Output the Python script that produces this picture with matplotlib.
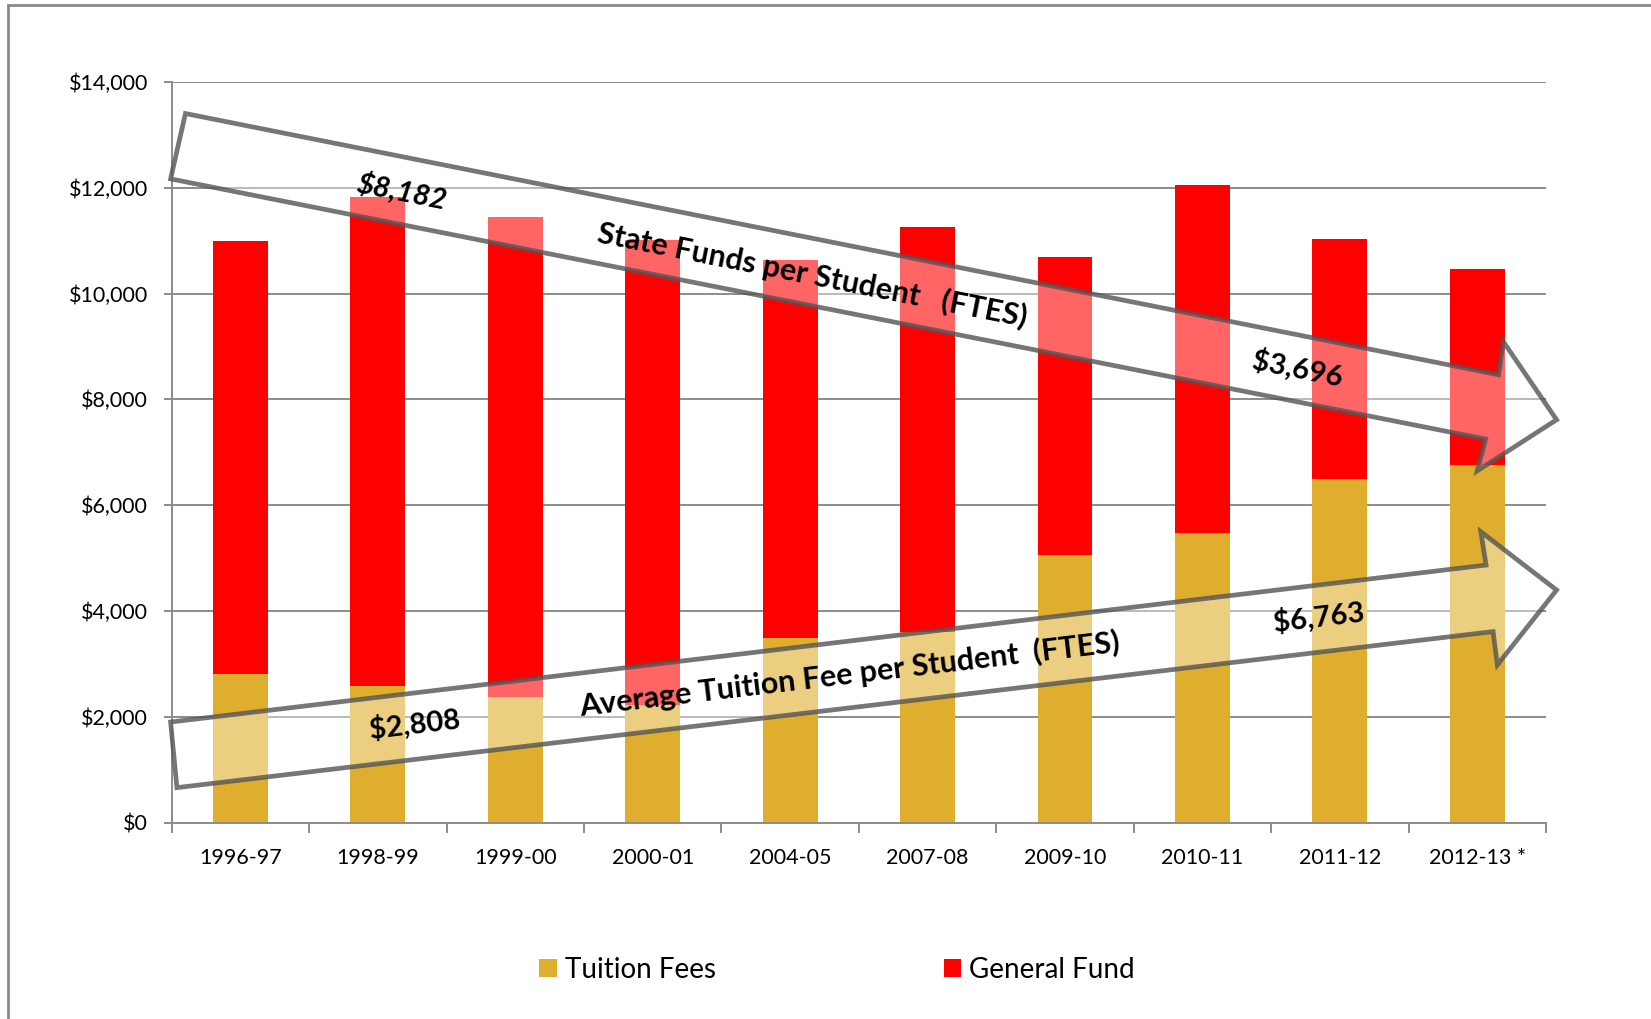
import matplotlib
matplotlib.use("Agg")
import matplotlib.pyplot as plt
from matplotlib.patches import Polygon, Rectangle, Patch
import numpy as np

plt.rcParams['font.family'] = ['Lato', 'DejaVu Sans']

# ---- data ----
years = ["1996-97", "1998-99", "1999-00", "2000-01", "2004-05",
         "2007-08", "2009-10", "2010-11", "2011-12", "2012-13 *"]
tuition_fees = [2808, 2589, 2370, 2230, 3490, 3600, 5059, 5477, 6493, 6763]
general_fund = [8182, 9235, 9077, 8776, 7139, 7656, 5635, 6573, 4542, 3696]
y_ticks = [0, 2000, 4000, 6000, 8000, 10000, 12000, 14000]
y_tick_labels = ["$0", "$2,000", "$4,000", "$6,000", "$8,000",
                 "$10,000", "$12,000", "$14,000"]
series_names = ["Tuition Fees", "General Fund"]

GOLD = "#E0AE2E"
RED = "#FF0000"
GRID = "#8C8C8C"

fig = plt.figure(figsize=(16.51, 10.19), dpi=100)
ax = fig.add_axes([0.104, 0.1928, 0.8324, 0.7267])

x = np.arange(len(years))
ax.bar(x, tuition_fees, width=0.4, color=GOLD, zorder=2)
ax.bar(x, general_fund, width=0.4, bottom=tuition_fees, color=RED, zorder=2)

ax.set_xlim(-0.5, len(years) - 0.5)
ax.set_ylim(0, 14000)
ax.set_yticks(y_ticks)
ax.set_yticklabels(y_tick_labels, fontsize=15.5)
ax.yaxis.grid(True, color=GRID, linewidth=1.4, zorder=0)
ax.set_axisbelow(True)

# x: boundary ticks as major, labels as minor at centers
ax.set_xticks(np.arange(-0.5, len(years)), minor=False)
ax.set_xticklabels([])
ax.set_xticks(x, minor=True)
ax.set_xticklabels(years, minor=True, fontsize=15.5)
ax.tick_params(axis='x', which='major', length=7, width=1.4, color=GRID, direction='out')
ax.tick_params(axis='x', which='minor', length=0, pad=18)
ax.tick_params(axis='y', length=6, width=1.4, color=GRID, direction='out', pad=11)

for s in ['top', 'right']:
    ax.spines[s].set_visible(False)
for s in ['left', 'bottom']:
    ax.spines[s].set_color(GRID)
    ax.spines[s].set_linewidth(1.4)

# ---- trend arrows (annotation shapes, data coords) ----
arrow_face = (1, 1, 1, 0.4)
arrow_edge = (0.33, 0.33, 0.33, 0.8)
state_arrow = [(-0.40, 13404), (-0.508, 12169), (9.06, 7250), (9.00, 6650),
               (9.577, 7615), (9.19, 9090), (9.155, 8465)]
tuition_arrow = [(-0.508, 1900), (-0.462, 660), (9.115, 3610), (9.146, 2981),
                 (9.577, 4396), (9.026, 5497), (9.064, 4868)]
for verts in (state_arrow, tuition_arrow):
    ax.add_patch(Polygon(verts, closed=True, facecolor=arrow_face,
                         edgecolor=arrow_edge, linewidth=3.4,
                         joinstyle='miter', clip_on=False, zorder=4))

rot_down = -11.2
rot_up = 6.8
NUM_FS = 21
LAB_FS = 22
ax.text(1.18, 11930, "$8,182", rotation=rot_down, fontsize=NUM_FS, fontweight='bold',
        fontstyle='italic', ha='center', va='center', rotation_mode='anchor', zorder=5)
ax.text(4.16, 10340, "State Funds per Student   (FTES)", rotation=rot_down,
        fontsize=LAB_FS, fontweight='bold', ha='center', va='center',
        rotation_mode='anchor', zorder=5)
ax.text(7.69, 8584, "$3,696", rotation=rot_down, fontsize=NUM_FS, fontweight='bold',
        ha='center', va='center', rotation_mode='anchor', zorder=5)
ax.text(1.27, 1852, "$2,808", rotation=rot_up, fontsize=NUM_FS, fontweight='bold',
        ha='center', va='center', rotation_mode='anchor', zorder=5)
ax.text(4.43, 2808, "Average Tuition Fee per Student  (FTES)", rotation=rot_up,
        fontsize=LAB_FS, fontweight='bold', ha='center', va='center',
        rotation_mode='anchor', zorder=5)
ax.text(7.845, 3884, "$6,763", rotation=rot_up, fontsize=NUM_FS, fontweight='bold',
        ha='center', va='center', rotation_mode='anchor', zorder=5)

# ---- legend ----
handles = [Patch(facecolor=GOLD, edgecolor='none'), Patch(facecolor=RED, edgecolor='none')]
fig.legend(handles, series_names, loc='center', bbox_to_anchor=(0.507, 0.0483),
           ncol=2, frameon=False, fontsize=20, handlelength=0.62, handleheight=0.62,
           handletextpad=0.3, columnspacing=8.2)

# ---- outer border ----
fig.patches.append(Rectangle((0.0051, -0.2), 1.3, 0.9948 + 0.2,
                             transform=fig.transFigure, fill=False,
                             edgecolor='#888888', linewidth=2.0))

fig.savefig("out.png", dpi=100)
